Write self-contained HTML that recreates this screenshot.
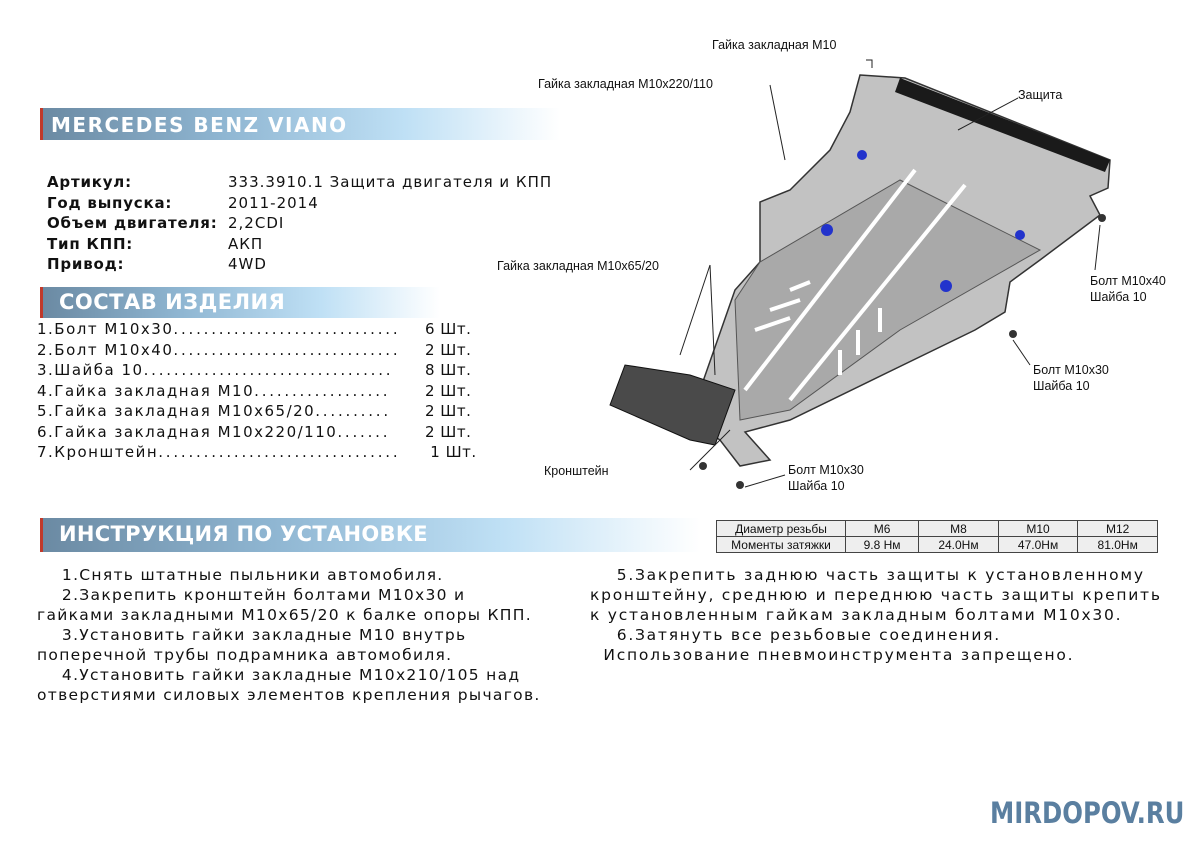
<!DOCTYPE html>
<html><head><meta charset="utf-8"><style>
body{margin:0;width:1200px;height:848px;background:#fff;position:relative;overflow:hidden;font-family:"DejaVu Sans","Liberation Sans",sans-serif;color:#111}
.bar{position:absolute;left:40px;background:linear-gradient(90deg,#6b8aa3 0%,#8fb6d2 35%,#bfe0f5 70%,#fff 100%);border-left:3px solid #c0392b;color:#fff;font-weight:bold;box-sizing:border-box}
.t{position:absolute;white-space:pre;font-size:15px;line-height:20.5px}
.li{letter-spacing:1.5px}.d{letter-spacing:2.8px}
table{position:absolute;left:716px;top:520px;width:442px;border-collapse:collapse;font-family:"Liberation Sans",sans-serif;font-size:12px;background:#eee}
td{border:1px solid #444;text-align:center;height:15px;padding:0}
.lbl{position:absolute;font-family:"Liberation Sans",sans-serif;font-size:12.5px;white-space:pre;line-height:16px}
</style></head><body>
<div class="bar" style="top:108px;width:520px;height:32px;font-size:20px;padding:5px 0 0 8px;letter-spacing:1.5px">MERCEDES BENZ VIANO</div>
<div class="t" style="left:47px;top:172px;font-weight:bold;letter-spacing:0.8px">Артикул:
Год выпуска:
Объем двигателя:
Тип КПП:
Привод:</div>
<div class="t" style="left:228px;top:172px;letter-spacing:1px">333.3910.1 Защита двигателя и КПП
2011-2014
2,2CDI
АКП
4WD</div>
<div class="bar" style="top:287px;width:400px;height:31px;font-size:21px;padding:3px 0 0 16px;letter-spacing:0.5px">СОСТАВ ИЗДЕЛИЯ</div>
<div class="t li" style="left:37px;top:319px">1.Болт М10х30<span class="d">..............................</span>
2.Болт М10х40<span class="d">..............................</span>
3.Шайба 10<span class="d">.................................</span>
4.Гайка закладная М10<span class="d">..................</span>
5.Гайка закладная М10х65/20<span class="d">..........</span>
6.Гайка закладная М10х220/110<span class="d">.......</span>
7.Кронштейн<span class="d">................................</span></div>
<div class="t" style="left:408px;top:319px;background:#fff;padding-left:17px;letter-spacing:0.5px">6 Шт.
2 Шт.
8 Шт.
2 Шт.
2 Шт.
2 Шт.
 1 Шт.</div>
<div class="bar" style="top:518px;width:660px;height:34px;font-size:21px;padding:4px 0 0 16px;letter-spacing:0.3px">ИНСТРУКЦИЯ ПО УСТАНОВКЕ</div>
<div class="t" style="left:37px;top:565px;font-size:15.5px;line-height:20px;letter-spacing:1.3px">    1.Снять штатные пыльники автомобиля.
    2.Закрепить кронштейн болтами М10х30 и
гайками закладными М10х65/20 к балке опоры КПП.
    3.Установить гайки закладные М10 внутрь
поперечной трубы подрамника автомобиля.
    4.Установить гайки закладные М10х210/105 над
отверстиями силовых элементов крепления рычагов.</div>
<div class="t" style="left:590px;top:565px;font-size:15.5px;line-height:20px;letter-spacing:1.75px">    5.Закрепить заднюю часть защиты к установленному
кронштейну, среднюю и переднюю часть защиты крепить
к установленным гайкам закладным болтами М10х30.
    6.Затянуть все резьбовые соединения.
  Использование пневмоинструмента запрещено.</div>
<table><tr><td style="width:128px">Диаметр резьбы</td><td>М6</td><td>М8</td><td>М10</td><td>М12</td></tr>
<tr><td>Моменты затяжки</td><td>9.8 Нм</td><td>24.0Нм</td><td>47.0Нм</td><td>81.0Нм</td></tr></table>
<div style="position:absolute;left:990px;top:796px;font-family:'DejaVu Sans',sans-serif;font-size:29px;color:#5a7fa0;font-weight:bold;transform:scaleX(0.84);transform-origin:left">MIRDOPOV.RU</div>
<svg style="position:absolute;left:0;top:0" width="1200" height="848">
<polygon points="860,75 905,78 1110,160 1108,188 1090,196 1100,215 1040,260 1010,282 1005,312 975,330 790,420 745,432 770,460 740,466 720,440 690,420 700,390 735,290 760,262 760,202 790,190 830,150 850,112" fill="#c2c2c2" stroke="#333" stroke-width="1.5"/>
<polygon points="900,78 1110,160 1105,172 895,92" fill="#1a1a1a"/>
<polygon points="610,405 625,365 690,375 735,390 715,445 690,440" fill="#4a4a4a" stroke="#111"/>
<polygon points="760,262 900,180 1040,250 900,330 790,410 740,420 735,300" fill="#a9a9a9" stroke="#555"/>
<g stroke="#fff" stroke-width="4"><line x1="915" y1="170" x2="745" y2="390"/><line x1="965" y1="185" x2="790" y2="400"/><line x1="790" y1="290" x2="810" y2="282"/><line x1="770" y1="310" x2="800" y2="300"/><line x1="755" y1="330" x2="790" y2="318"/><line x1="840" y1="350" x2="840" y2="375"/><line x1="858" y1="330" x2="858" y2="355"/><line x1="880" y1="308" x2="880" y2="332"/></g>
<g fill="#2233cc"><circle cx="862" cy="155" r="5"/><circle cx="827" cy="230" r="6"/><circle cx="1020" cy="235" r="5"/><circle cx="946" cy="286" r="6"/></g>
<g fill="#333"><circle cx="1102" cy="218" r="4"/><circle cx="1013" cy="334" r="4"/><circle cx="703" cy="466" r="4"/><circle cx="740" cy="485" r="4"/></g>
<g stroke="#222" stroke-width="1" fill="none">
<polyline points="866,60 872,60 872,68"/><line x1="770" y1="85" x2="785" y2="160"/><line x1="1018" y1="98" x2="958" y2="130"/>
<line x1="710" y1="265" x2="680" y2="355"/><line x1="710" y1="265" x2="715" y2="375"/>
<line x1="1100" y1="225" x2="1095" y2="270"/><line x1="1013" y1="340" x2="1030" y2="365"/>
<line x1="690" y1="470" x2="730" y2="430"/><line x1="745" y1="487" x2="785" y2="475"/></g>
</svg>
<div class="lbl" style="left:712px;top:37px">Гайка закладная М10</div>
<div class="lbl" style="left:538px;top:76px">Гайка закладная М10х220/110</div>
<div class="lbl" style="left:1018px;top:87px">Защита</div>
<div class="lbl" style="left:497px;top:258px">Гайка закладная М10х65/20</div>
<div class="lbl" style="left:1090px;top:273px">Болт М10х40
Шайба 10</div>
<div class="lbl" style="left:1033px;top:362px">Болт М10х30
Шайба 10</div>
<div class="lbl" style="left:544px;top:463px">Кронштейн</div>
<div class="lbl" style="left:788px;top:462px">Болт М10х30
Шайба 10</div>
</body></html>
